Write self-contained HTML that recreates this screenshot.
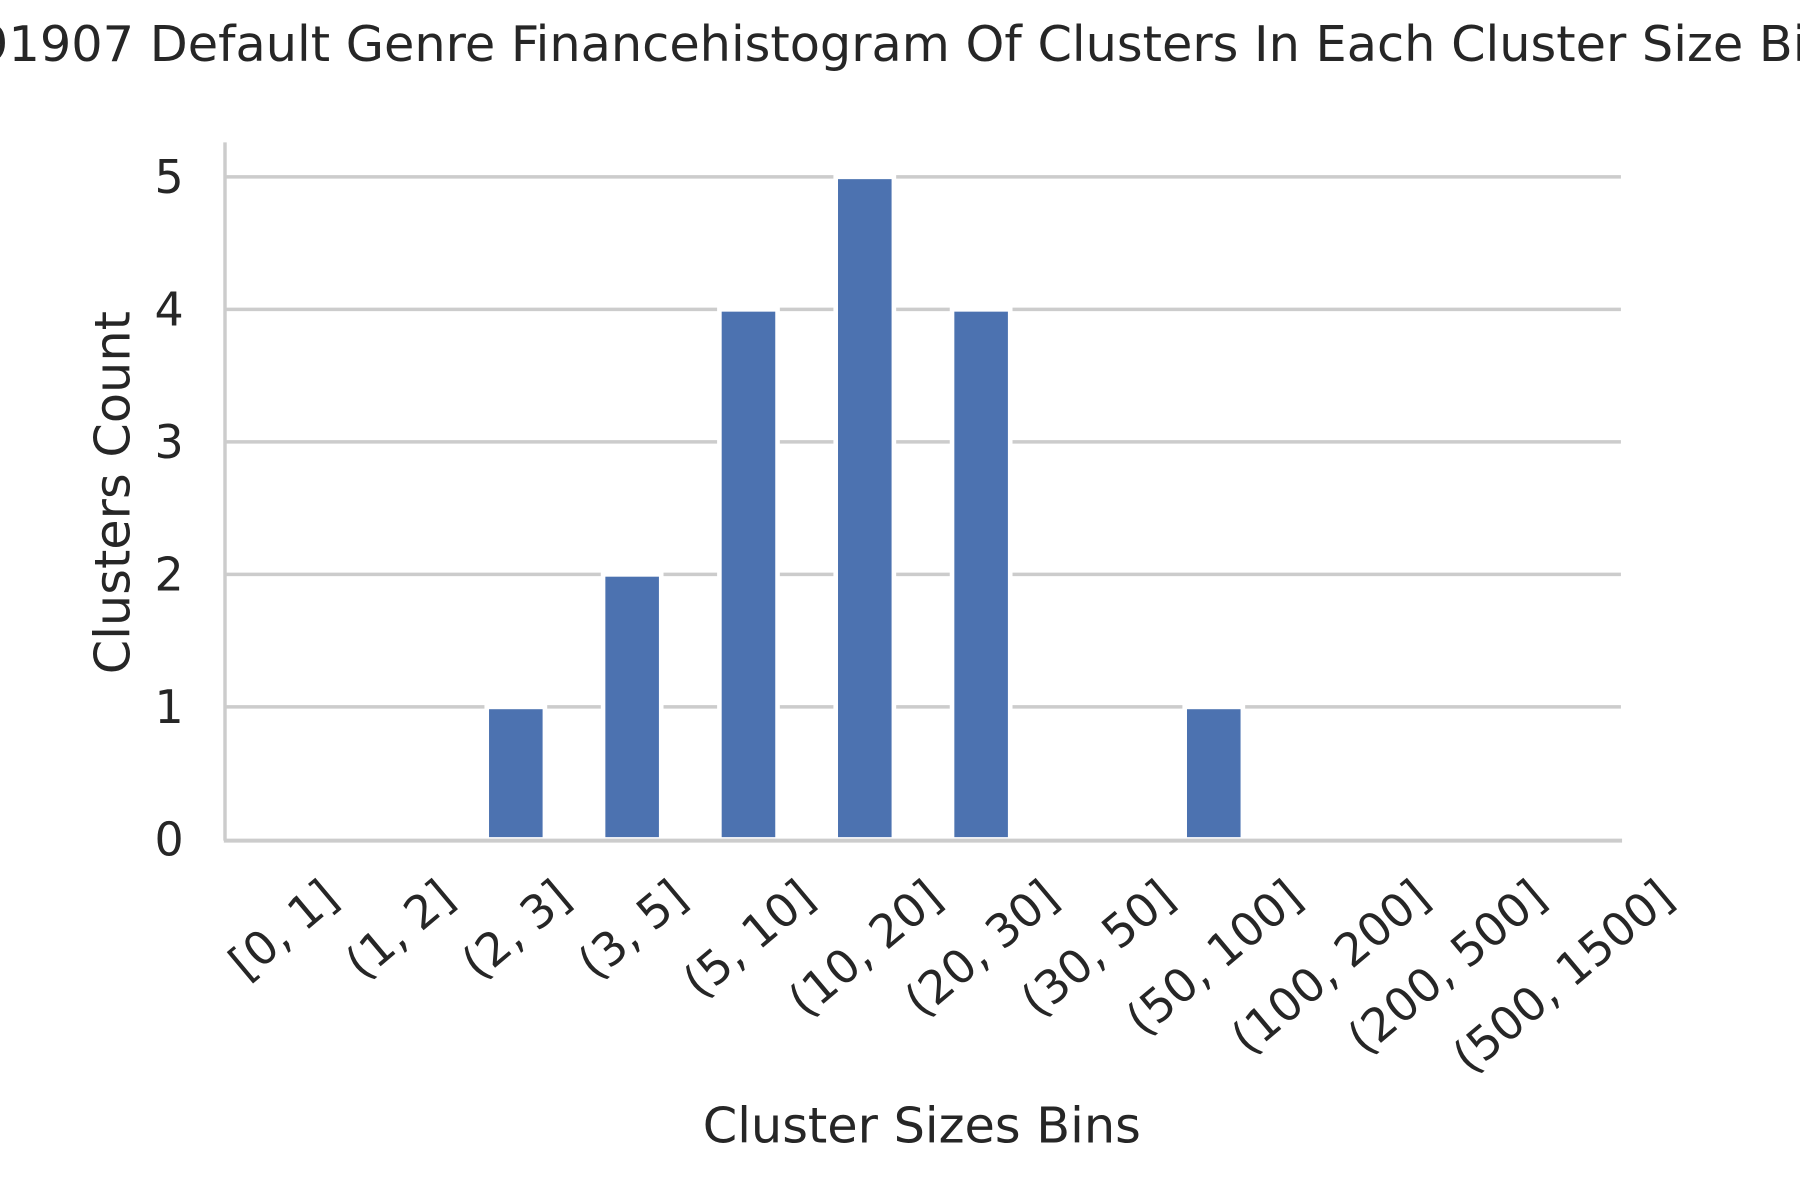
<!DOCTYPE html>
<html><head><meta charset="utf-8"><style>
html,body{margin:0;padding:0;background:#fff;}
svg{display:block;font-family:"DejaVu Sans","Liberation Sans",sans-serif;}
</style></head><body>
<svg id="chart" width="1800" height="1200" viewBox="0 0 1568 1045" preserveAspectRatio="none">
<text x="-20" y="53" font-size="43" fill="#262626">91907 Default Genre Financehistogram Of Clusters In Each Cluster Size Bins</text>
<g id="grid"></g>
<g id="bars"></g>
<g id="yticks"></g>
<g id="xticks"></g>
<line x1="196" y1="124" x2="196" y2="732" stroke="#cccccc" stroke-width="3"/>
<line x1="195" y1="732" x2="1413" y2="732" stroke="#cccccc" stroke-width="3.5"/>
<text transform="translate(113,429) rotate(-90)" text-anchor="middle" font-size="43" fill="#262626">Clusters Count</text>
<text x="803" y="995" text-anchor="middle" font-size="43" fill="#262626">Cluster Sizes Bins</text>
</svg>
<script>
const categories = ["[0, 1]","(1, 2]","(2, 3]","(3, 5]","(5, 10]","(10, 20]","(20, 30]","(30, 50]","(50, 100]","(100, 200]","(200, 500]","(500, 1500]"];
const counts = [0,0,1,2,4,5,4,0,1,0,0,0];
const yTicks = [0,1,2,3,4,5];
const NS="http://www.w3.org/2000/svg";
const X0=196,X1=1412,Y0=731,Y5=154;
const band=(X1-X0)/categories.length;
function xc(i){return X0+band*(i+0.5);}
function yScale(v){return Y0-(Y0-Y5)*v/5;}
const grid=document.getElementById('grid'),bars=document.getElementById('bars'),yt=document.getElementById('yticks'),xt=document.getElementById('xticks');
yTicks.forEach(t=>{
  if(t>0){const l=document.createElementNS(NS,'line');
  
  
  l.setAttribute('x1',X0);l.setAttribute('x2',X1);l.setAttribute('y1',yScale(t));l.setAttribute('y2',yScale(t));
  l.setAttribute('stroke','#cccccc');l.setAttribute('stroke-width','3');grid.appendChild(l);}
  const tx=document.createElementNS(NS,'text');
  
  
  tx.setAttribute('x',160);tx.setAttribute('y',yScale(t)+14);tx.setAttribute('text-anchor','end');
  tx.setAttribute('font-size','40');tx.setAttribute('fill','#262626');tx.textContent=t;yt.appendChild(tx);
});
const bw=band*0.5;
counts.forEach((c,i)=>{
  if(c<=0)return;
  const r=document.createElementNS(NS,'rect');
  
  
  r.setAttribute('x',xc(i)-bw/2);r.setAttribute('width',bw);
  r.setAttribute('y',yScale(c));r.setAttribute('height',Y0-yScale(c));
  r.setAttribute('fill','#4c72b0');r.setAttribute('stroke','#ffffff');r.setAttribute('stroke-width','4');
  bars.appendChild(r);
});
const ang=40*Math.PI/180, tickFs=40, labelTop=758;
categories.forEach((c,i)=>{
  const t=document.createElementNS(NS,'text');
  
  
  t.setAttribute('text-anchor','middle');t.setAttribute('dominant-baseline','central');
  t.setAttribute('font-size',tickFs);t.setAttribute('fill','#262626');t.textContent=c;
  xt.appendChild(t);
  const w=t.getComputedTextLength(), h=tickFs*1.1;
  const half=(w/2)*Math.sin(ang)+(h/2)*Math.cos(ang);
  t.setAttribute('transform','translate('+xc(i)+','+(labelTop+half)+') rotate(-40)');
});
</script>
</body></html>
